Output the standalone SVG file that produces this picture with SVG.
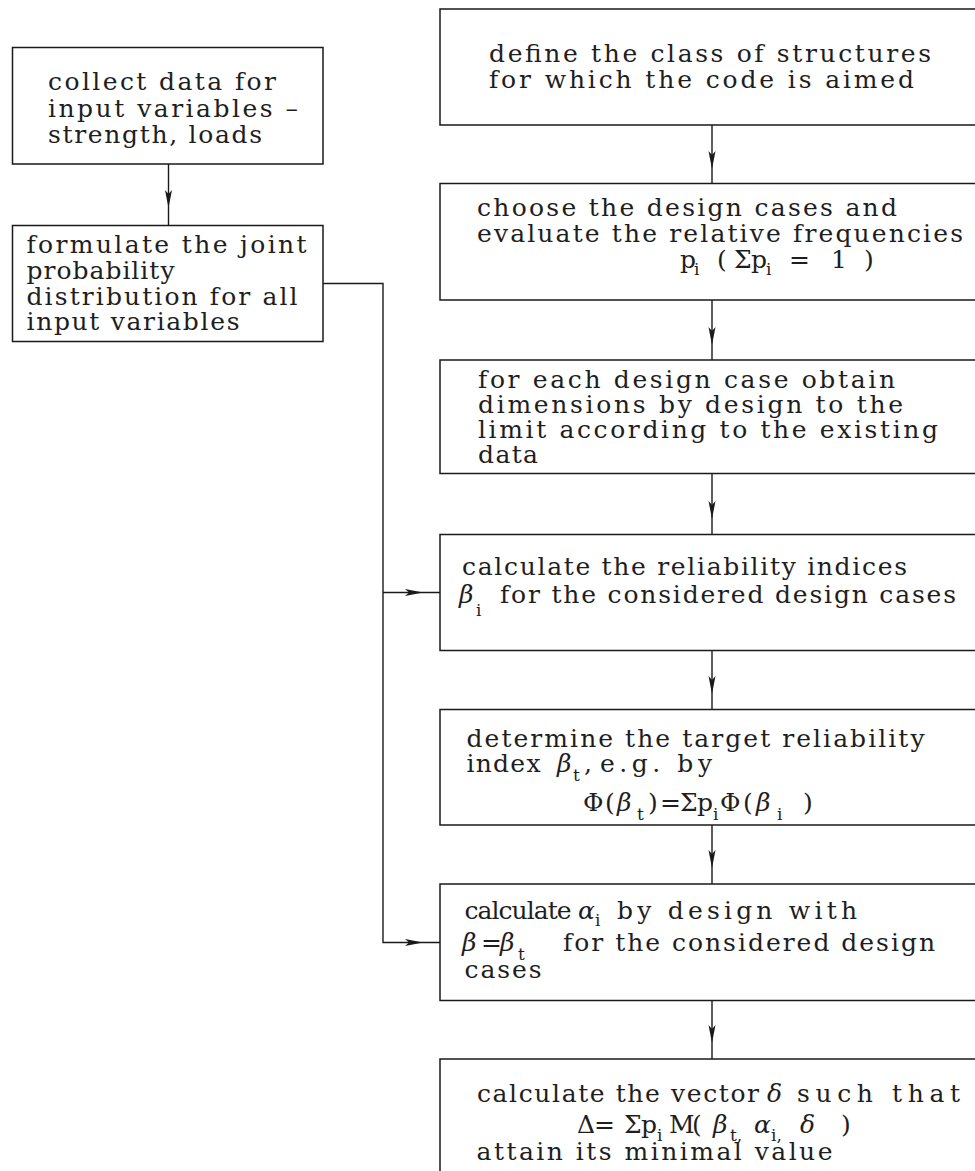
<svg xmlns="http://www.w3.org/2000/svg" width="975" height="1171" viewBox="0 0 975 1171">
<style>
.box{fill:#fff;stroke:#1a1a1a;stroke-width:1.5}
.ln{fill:none;stroke:#1a1a1a;stroke-width:1.4}
.ah{fill:#1a1a1a;stroke:none}
text{font-family:"DejaVu Serif","Liberation Serif",serif;font-size:25px;fill:#1e1e1e}
.sub{font-size:17px}
.it{font-style:italic}
</style>
<defs>
<path id="ahd" class="ah" d="M0,0 L-3.5,-18 L0,-14 L3.5,-18 Z"/>
<path id="ahr" class="ah" d="M0,0 L-18,-3.5 L-14,0 L-18,3.5 Z"/>
</defs>
<rect width="975" height="1171" fill="#fff"/>

<g id="connectors">
<path class="ln" d="M168.5,164 V225.5"/>
<use href="#ahd" x="168.5" y="208"/>
<path class="ln" d="M712,125 V183.5"/>
<use href="#ahd" x="712" y="169"/>
<path class="ln" d="M712,300 V360"/>
<use href="#ahd" x="712" y="345"/>
<path class="ln" d="M712,473.5 V534.5"/>
<use href="#ahd" x="712" y="519"/>
<path class="ln" d="M712,650.5 V709.5"/>
<use href="#ahd" x="712" y="694"/>
<path class="ln" d="M712,825 V884"/>
<use href="#ahd" x="712" y="868"/>
<path class="ln" d="M712,1000.5 V1059"/>
<use href="#ahd" x="712" y="1043"/>
<path class="ln" d="M323,283.5 H383 V942.5 H440"/>
<path class="ln" d="M383,592.5 H440"/>
<use href="#ahr" x="423" y="592.5"/>
<use href="#ahr" x="423" y="942.5"/>
</g>

<g id="n-collect">
<rect class="box" x="12.5" y="47.5" width="310.5" height="116.5"/>
<text x="48" y="90" textLength="228" lengthAdjust="spacing">collect data for</text>
<text x="48" y="116.5" textLength="250" lengthAdjust="spacing">input variables –</text>
<text x="48" y="143" textLength="214" lengthAdjust="spacing">strength, loads</text>
</g>

<g id="n-formulate">
<rect class="box" x="12.5" y="225.5" width="310.5" height="116"/>
<text x="26.5" y="253" textLength="280" lengthAdjust="spacing">formulate the joint</text>
<text x="26.5" y="278.5" textLength="148" lengthAdjust="spacing">probability</text>
<text x="26.5" y="304.5" textLength="271" lengthAdjust="spacing">distribution for all</text>
<text x="26.5" y="330" textLength="213" lengthAdjust="spacing">input variables</text>
</g>

<g id="n-define">
<rect class="box" x="440" y="9" width="600" height="116"/>
<text x="489" y="61.5" textLength="442" lengthAdjust="spacing">define the class of structures</text>
<text x="489" y="88" textLength="425" lengthAdjust="spacing">for which the code is aimed</text>
</g>

<g id="n-choose">
<rect class="box" x="440" y="183.5" width="600" height="116.5"/>
<text x="477" y="216" textLength="420" lengthAdjust="spacing">choose the design cases and</text>
<text x="477" y="242" textLength="486" lengthAdjust="spacing">evaluate the relative frequencies</text>
<text y="268"><tspan x="680">p</tspan><tspan class="sub" x="694" y="275">i</tspan><tspan x="717" y="268">(</tspan><tspan x="734">Σ</tspan><tspan x="751">p</tspan><tspan class="sub" x="766" y="275">i</tspan><tspan x="789" y="268">=</tspan><tspan x="831">1</tspan><tspan x="864">)</tspan></text>
</g>

<g id="n-dimensions">
<rect class="box" x="440" y="360" width="600" height="113.5"/>
<text x="478" y="388" textLength="417" lengthAdjust="spacing">for each design case obtain</text>
<text x="478" y="413" textLength="425" lengthAdjust="spacing">dimensions by design to the</text>
<text x="478" y="438" textLength="460" lengthAdjust="spacing">limit according to the existing</text>
<text x="478" y="463" textLength="60" lengthAdjust="spacing">data</text>
</g>

<g id="n-reliability">
<rect class="box" x="440" y="534.5" width="600" height="116"/>
<text x="462" y="575" textLength="445" lengthAdjust="spacing">calculate the reliability indices</text>
<text y="603"><tspan class="it" x="459">β</tspan><tspan class="sub" x="476" y="616">i</tspan><tspan x="500" y="603" textLength="456" lengthAdjust="spacing">for the considered design cases</tspan></text>
</g>

<g id="n-target">
<rect class="box" x="440" y="709.5" width="600" height="115.5"/>
<text x="466.5" y="746.5" textLength="458" lengthAdjust="spacing">determine the target reliability</text>
<text y="771.5"><tspan x="466.5" textLength="74" lengthAdjust="spacing">index</tspan><tspan class="it" x="557">β</tspan><tspan class="sub" x="573" y="781">t</tspan><tspan x="584" y="771.5">,</tspan><tspan x="600" textLength="112" lengthAdjust="spacing">e.g.  by</tspan></text>
<text y="811"><tspan x="583">Φ</tspan><tspan x="605">(</tspan><tspan class="it" x="617">β</tspan><tspan class="sub" x="637" y="820">t</tspan><tspan x="648" y="811">)</tspan><tspan x="660">=</tspan><tspan x="680">Σ</tspan><tspan x="697">p</tspan><tspan class="sub" x="713" y="820">i</tspan><tspan x="720" y="811">Φ</tspan><tspan x="743">(</tspan><tspan class="it" x="756">β</tspan><tspan class="sub" x="777" y="820">i</tspan><tspan x="803" y="811">)</tspan></text>
</g>

<g id="n-alpha">
<rect class="box" x="440" y="884" width="600" height="116.5"/>
<text y="919"><tspan x="464.5" textLength="107" lengthAdjust="spacing">calculate</tspan><tspan class="it" x="578">α</tspan><tspan class="sub" x="595" y="926">i</tspan><tspan x="617" y="919" textLength="240" lengthAdjust="spacing">by design with</tspan></text>
<text y="950.5"><tspan class="it" x="462">β</tspan><tspan x="481">=</tspan><tspan class="it" x="500">β</tspan><tspan class="sub" x="518" y="960">t</tspan><tspan x="563" y="950.5" textLength="372" lengthAdjust="spacing">for the considered design</tspan></text>
<text x="464.5" y="978" textLength="77" lengthAdjust="spacing">cases</text>
</g>

<g id="n-vector">
<rect class="box" x="440" y="1059" width="600" height="200"/>
<text y="1101.5"><tspan x="477" textLength="282" lengthAdjust="spacing">calculate the vector</tspan><tspan class="it" x="767">δ</tspan><tspan x="797" textLength="163" lengthAdjust="spacing">such that</tspan></text>
<text y="1132.5"><tspan x="577">Δ</tspan><tspan x="594">=</tspan><tspan x="624">Σ</tspan><tspan x="641">p</tspan><tspan class="sub" x="657" y="1141">i</tspan><tspan x="669" y="1132.5">M</tspan><tspan x="692">(</tspan><tspan class="it" x="713">β</tspan><tspan class="sub" x="730" y="1141">t,</tspan><tspan class="it" x="754" y="1132.5">α</tspan><tspan class="sub" x="771" y="1141">i,</tspan><tspan class="it" x="800" y="1132.5">δ</tspan><tspan x="841">)</tspan></text>
<text x="476.5" y="1160" textLength="356" lengthAdjust="spacing">attain its minimal value</text>
</g>
</svg>
